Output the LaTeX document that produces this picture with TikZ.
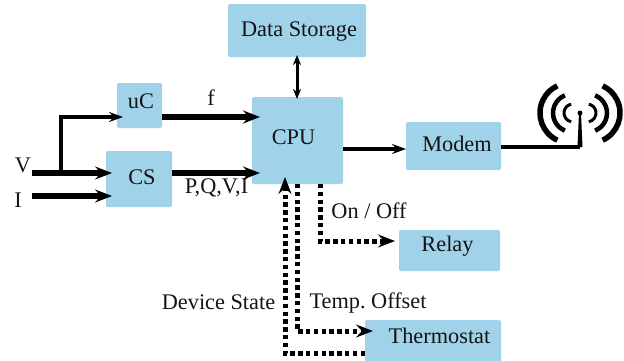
\documentclass[tikz,border=0pt]{standalone}
\usepackage{fontspec}
\setmainfont{Liberation Serif}
\usetikzlibrary{arrows.meta}
\definecolor{boxblue}{HTML}{A0D3E9}
\frenchspacing
\tikzset{
  boxst/.style={fill=boxblue,draw=none,rounded corners=2pt,inner sep=0pt,outer sep=0pt},
  lbl/.style={font=\fontsize{22.3}{25}\selectfont,inner sep=0pt,text=black!92},
  tip/.style={-{Stealth[length=17pt,width=13pt,inset=6pt]}},
  smalltip/.style={-{Stealth[length=14pt,width=10pt,inset=5pt]}},
  heavy/.style={line width=6pt},
  medium/.style={line width=4pt},
  dots/.style={line width=5pt,dash pattern=on 4.4pt off 3.4pt},
}
\begin{document}
\begin{tikzpicture}[x=1pt,y=-1pt]
\useasboundingbox (0,0) rectangle (624,360);
\clip (0,0) rectangle (624,360);
% boxes
\node[boxst,minimum width=138pt,minimum height=53pt] (store) at (297,30.5) {};
\node[boxst,minimum width=45pt,minimum height=45pt] (uc) at (139.5,105.5) {};
\node[boxst,minimum width=66pt,minimum height=56pt] (cs) at (139,179) {};
\node[boxst,minimum width=91pt,minimum height=87pt] (cpu) at (297.5,140.5) {};
\node[boxst,minimum width=95pt,minimum height=48pt] (modem) at (453.5,146) {};
\node[boxst,minimum width=101pt,minimum height=41pt] (relay) at (449.5,250.5) {};
\node[boxst,minimum width=136pt,minimum height=44pt] (thermo) at (433,342) {};
% box labels
\node[lbl] (storeT) at (299,32) {Data Storage};
\node[lbl] (ucT) at (141,101) {uC};
\node[lbl] (csT) at (142,177) {CS};
\node[lbl] (cpuT) at (293.5,137) {CPU};
\node[lbl] (modemT) at (457,144) {Modem};
\node[lbl] (relayT) at (447.5,246) {Relay};
\node[lbl] (thermoT) at (439.5,336) {Thermostat};
% free labels
\node[lbl] (vT) at (23,165) {V};
\node[lbl] (iT) at (18,200) {I};
\node[lbl] (fT) at (211,98) {f};
\node[lbl] (pqT) at (216.5,188) {P,Q,V,I};
\node[lbl] (onT) at (369,211) {On / Off};
\node[lbl] (tempT) at (368,303) {Temp. Offset};
\node[lbl] (devT) at (218.5,302) {Device State};
% helper coordinates
\coordinate (vstart) at (32,173);
\coordinate (vbranch) at (61,173);
\coordinate (ubend) at (61,117);
\coordinate (istart) at (32,196);
\coordinate (relaybend) at (320,241);
\coordinate (tempbend) at (297,331);
\coordinate (devbend) at (285,353);
\coordinate (mast) at (580,113);
\coordinate (mastfoot) at (580,147);
% connectors
\draw[heavy,tip,shorten >=-6pt] (vstart) -- (vstart -| cs.west);
\draw[heavy,tip,shorten >=-6pt] (istart) -- (istart -| cs.west);
\draw[medium,smalltip,line join=miter,shorten >=-6pt] (vbranch) -- (ubend) -- (ubend -| uc.west);
\draw[heavy,tip,shorten >=-8pt] (ubend -| uc.east) -- (ubend -| cpu.west);
\draw[heavy,tip,shorten >=-8pt] (vstart -| cs.east) -- (vstart -| cpu.west);
\draw[line width=3.2pt,smalltip] (cpu.east |- 0,149) -- (modem.west |- 0,149);
\draw[line width=3pt,{Stealth[length=10pt,width=8pt,inset=3pt]}-{Stealth[length=10pt,width=8pt,inset=3pt]},shorten <=-2pt,shorten >=-2pt] (store.south) -- (store.south |- cpu.north);
\draw[dots,tip,shorten >=4pt] (cpu.south -| relaybend) -- (relaybend) -- (relay.west |- relaybend);
\draw[dots,tip,shorten >=-8pt] (cpu.south -| tempbend) -- (tempbend) -- (thermo.west |- tempbend);
\draw[dots,tip,shorten >=-7pt] (thermo.west |- devbend) -- (devbend) -- (cpu.south -| devbend);
\draw[line width=4pt] (modem.east |- mastfoot) -- (mastfoot);
% antenna
\fill (mast) ++(-1,0) -- ++(2,0) -- (582.5,147) -- (577.5,147) -- cycle;
\fill (mast) circle (2.5pt);
\foreach \dx/\r/\a/\w in {10/30/65/5.5,8/19/68/4.5,7/9/78/3}{
  \draw[line width=\w pt] (mast) ++(\dx,0) ++(\a:\r) arc (\a:-\a:\r);
  \draw[line width=\w pt] (mast) ++(-\dx,0) ++(180-\a:\r) arc (180-\a:180+\a:\r);
}
\end{tikzpicture}
\end{document}
